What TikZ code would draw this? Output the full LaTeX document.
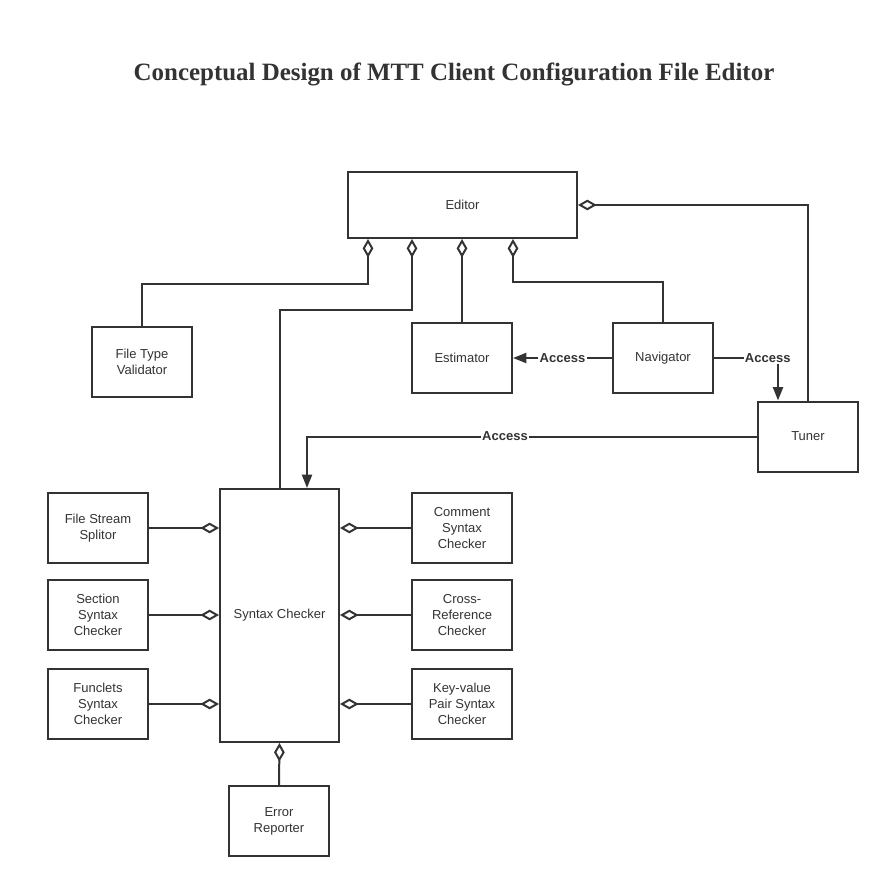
\documentclass[tikz,border=0pt]{standalone}
\usepackage{fontspec}
\setmainfont{Liberation Sans}
\newfontfamily\titlefont{Liberation Serif}
\usetikzlibrary{arrows.meta,calc}

\definecolor{ink}{HTML}{333333}
\tikzset{
  block/.style={draw=ink, line width=1.5pt, fill=white, text=ink, align=center,
    minimum width=75pt, minimum height=52.5pt, inner sep=2pt,
    font=\fontsize{9.75}{12}\selectfont},
  agg/.style={draw=ink, line width=1.5pt, {Diamond[open,length=14pt,width=8pt,line width=1.5pt]}-},
  acc/.style={draw=ink, line width=1.5pt, -{Triangle[length=10pt,width=7.5pt]}},
  lbl/.style={fill=white, text=ink, inner sep=1pt, font=\fontsize{9.75}{12}\selectfont\bfseries}
}

\begin{document}
\begin{tikzpicture}[x=0.75pt,y=-0.75pt]
    \useasboundingbox (0,0) rectangle (890,888);
    \node[text=ink, font=\titlefont\fontsize{18.7}{22}\selectfont\bfseries] (title) at (454,74)
      {Conceptual Design of MTT Client Configuration File Editor};

    % top row
    \node[block, minimum width=171.75pt, minimum height=49.5pt] (editor) at (462.5,205) {Editor};
    \node[block] (ftv) at (142,362) {File Type\\Validator};
    \node[block] (estimator) at (462,358) {Estimator};
    \node[block] (navigator) at (663,358) {Navigator};
    \node[block] (tuner) at (808,436.5) {Tuner};

    % syntax checker and its parts
    \node[block, minimum width=89.25pt, minimum height=189.75pt] (syntax) at (279.5,615.5) {Syntax Checker};
    \node[block] (fss) at (98,528) {File Stream\\Splitor};
    \node[block] (ssc) at (98,615) {Section\\Syntax\\Checker};
    \node[block] (fsc) at (98,704) {Funclets\\Syntax\\Checker};
    \node[block] (csc) at (462,528) {Comment\\Syntax\\Checker};
    \node[block] (crc) at (462,615) {Cross-\\Reference\\Checker};
    \node[block] (kvc) at (462,704) {Key-value\\Pair Syntax\\Checker};
    \node[block] (err) at (279,821) {Error\\Reporter};

    % aggregation to editor
    \draw[agg] ($(editor.south west)+(21,0)$) -- ++(0,45) -| (ftv.north);
    \draw[agg] ($(editor.south west)+(65,0)$) -- ++(0,71) -| (syntax.north);
    \draw[agg] (editor.south -| estimator.north) -- (estimator.north);
    \draw[agg] ($(editor.south west)+(166,0)$) -- ++(0,43) -| (navigator.north);
    \draw[agg] (editor.east) -| (tuner.north);

    % access
    \draw[acc] (navigator.west) -- node[lbl] {Access} (estimator.east);
    \draw[acc] (navigator.east) -| node[lbl, pos=0.42] {Access} ($(tuner.north west)+(21,0)$);
    \draw[acc] (tuner.west) -| node[lbl, pos=0.28] {Access} ($(syntax.north west)+(88,0)$);

    % aggregation to syntax checker
    \draw[agg] (syntax.west |- fss.east) -- (fss.east);
    \draw[agg] (syntax.west |- ssc.east) -- (ssc.east);
    \draw[agg] (syntax.west |- fsc.east) -- (fsc.east);
    \draw[agg] (syntax.east |- csc.west) -- (csc.west);
    \draw[agg] (syntax.east |- crc.west) -- (crc.west);
    \draw[agg] (syntax.east |- kvc.west) -- (kvc.west);
    \draw[agg] (syntax.south) -- (err.north);
\end{tikzpicture}
\end{document}
